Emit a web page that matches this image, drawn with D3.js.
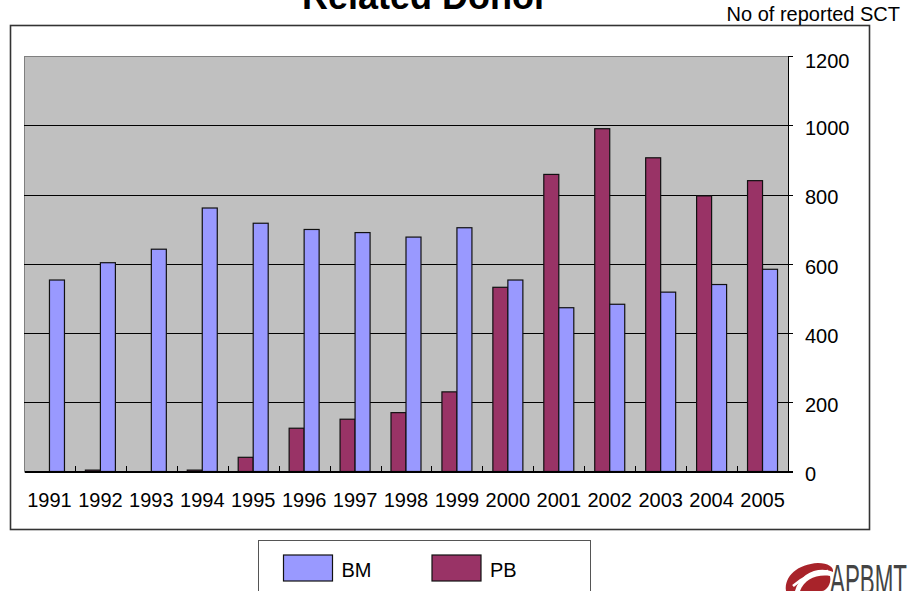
<!DOCTYPE html>
<html lang="en">
<head>
<meta charset="UTF-8">
<title>Related Donor</title>
<script src="https://cdnjs.cloudflare.com/ajax/libs/d3/7.8.5/d3.min.js"></script>
<style>
  body {
    margin: 0;
    background-color: #fff;
  }
  svg {
    display: block;
    font-family: "Liberation Sans", Arial, sans-serif;
  }
  .grid line {
    stroke: #000;
    stroke-width: 1;
  }
  .axis path,
  .axis line {
    stroke: #000;
    shape-rendering: crispEdges;
  }
  .tick-label {
    font-family: "Liberation Sans Narrow", "Liberation Sans", Arial, sans-serif;
    font-size: 20px;
    fill: #000;
  }
</style>
</head>
<body>
<div class="vizHolder"></div>
<script>
// values
var years = ["1991", "1992", "1993", "1994", "1995", "1996", "1997", "1998",
  "1999", "2000", "2001", "2002", "2003", "2004", "2005"];
var seriesNames = ["PB", "BM"];
var bmValues = [553, 603, 642, 761, 717, 699, 690, 677, 704, 553, 473, 483, 518, 540, 584];
var pbValues = [0, 4, 0, 4, 41, 125, 151, 170, 230, 532, 858, 990, 906, 796, 840];
var yTicks = [0, 200, 400, 600, 800, 1000, 1200];

var colors = { BM: "#9999ff", PB: "#993366" };

var W = 908, H = 591;
var plot = { left: 24, right: 788, top: 56, bottom: 471.5 };

var svg = d3.select(".vizHolder").
append("svg").
attr("width", W).
attr("height", H);

// outer frame
svg.append("rect").
attr("x", 10.5).
attr("y", 25.5).
attr("width", 859).
attr("height", 504).
attr("fill", "#fff").
attr("stroke", "#333").
attr("stroke-width", 1.6);

// title (cut off at the top in the original)
svg.append("text").
attr("x", 425).
attr("y", 8.5).
attr("text-anchor", "middle").
style("font-size", "36px").
style("font-weight", "bold").
text("Related Donor");

svg.append("text").
attr("x", 900).
attr("y", 20.5).
attr("text-anchor", "end").
style("font-size", "20px").
text("No of reported SCT");

var x = d3.scaleBand().
domain(years).
range([plot.left, plot.right]);

var barW = 15;
var x1 = d3.scaleBand().
domain(seriesNames).
range([(x.bandwidth() - 2 * barW) / 2, (x.bandwidth() + 2 * barW) / 2]);

var y = d3.scaleLinear().
domain([0, 1200]).
range([plot.bottom, plot.top]);

// plot area
svg.append("rect").
attr("x", plot.left + 0.5).
attr("y", plot.top + 0.5).
attr("width", plot.right - plot.left).
attr("height", plot.bottom - plot.top).
attr("fill", "#c0c0c0").
attr("stroke", "#808080").
attr("stroke-width", 1);

// gridlines
svg.append("g").
attr("class", "grid").
selectAll("line").
data(yTicks.filter(function (d) { return d > 0 && d < 1200; })).
enter().append("line").
attr("x1", plot.left).
attr("x2", plot.right).
attr("y1", function (d) { return Math.round(y(d)) + 0.5; }).
attr("y2", function (d) { return Math.round(y(d)) + 0.5; });

// bars
var rows = years.map(function (yr, i) {
  return { year: yr, BM: bmValues[i], PB: pbValues[i] };
});

var groups = svg.selectAll(".year").
data(rows).
enter().append("g").
attr("class", "year").
attr("transform", function (d) { return "translate(" + x(d.year) + ",0)"; });

groups.selectAll("rect").
data(function (d) {
  return seriesNames.map(function (k) { return { key: k, value: d[k] }; });
}).
enter().append("rect").
filter(function (d) { return d.value > 0; }).
attr("x", function (d) { return x1(d.key); }).
attr("width", x1.bandwidth()).
attr("y", function (d) { return y(d.value); }).
attr("height", function (d) { return y(0) - y(d.value); }).
attr("fill", function (d) { return colors[d.key]; }).
attr("stroke", "#111").
attr("stroke-width", 1.2);

// x axis: baseline, inner ticks at category boundaries, year labels
var xAxis = d3.axisBottom(x).tickSize(0).tickPadding(31);
var xg = svg.append("g").
attr("class", "axis").
attr("transform", "translate(0," + plot.bottom + ")").
call(xAxis);
xg.select(".domain").attr("stroke-width", 1.5);
xg.selectAll(".tick text").
attr("class", "tick-label").
attr("dy", "0.2em");

xg.selectAll(".bound").
data(years.slice(1)).
enter().append("line").
attr("class", "bound").
attr("x1", function (d) { return Math.round(x(d)) + 0.5; }).
attr("x2", function (d) { return Math.round(x(d)) + 0.5; }).
attr("y1", 0).
attr("y2", -6);

// y axis on the right
var yAxis = d3.axisRight(y).
tickValues(yTicks).
tickFormat(d3.format("d")).
tickSize(5).
tickPadding(12);
var yg = svg.append("g").
attr("class", "axis").
attr("transform", "translate(" + plot.right + ",0)").
call(yAxis);
yg.select(".domain").attr("stroke-width", 1.5);
yg.selectAll(".tick text").
attr("class", "tick-label").
attr("y", function (d) { return d === 1200 ? 5 : 3; });

// legend
var legend = svg.append("g").attr("class", "legend");
legend.append("rect").
attr("x", 258.5).
attr("y", 540.5).
attr("width", 332).
attr("height", 70).
attr("fill", "#fff").
attr("stroke", "#555").
attr("stroke-width", 1);

var legendItems = [
  { key: "BM", x: 283.5 },
  { key: "PB", x: 432 }
];
var li = legend.selectAll(".item").
data(legendItems).
enter().append("g").
attr("class", "item");
li.append("rect").
attr("x", function (d) { return d.x; }).
attr("y", 555).
attr("width", 49).
attr("height", 26).
attr("fill", function (d) { return colors[d.key]; }).
attr("stroke", "#111").
attr("stroke-width", 1.2);
li.append("text").
attr("x", function (d) { return d.x + 58; }).
attr("y", 577).
style("font-size", "20px").
text(function (d) { return d.key; });

// APBMT logo, cut at the bottom edge
var logo = svg.append("g").attr("class", "logo");
logo.append("path").
attr("d", "M786,591 C784,576 798,564 818,563 C828,563 834,567 833,572 C820,566 800,572 795,591 Z").
attr("fill", "#a8232a");
logo.append("path").
attr("d", "M800,591 C804,580 816,574 830,576 C832,584 826,591 822,591 Z").
attr("fill", "#a8232a");
logo.append("path").
attr("d", "M793,586 C803,577 815,572 828,571").
attr("fill", "none").
attr("stroke", "#fff").
attr("stroke-width", 2.5);
logo.append("text").
attr("x", 830).
attr("y", 594).
attr("textLength", 77).
attr("lengthAdjust", "spacingAndGlyphs").
style("font-size", "42px").
style("fill", "#444").
text("APBMT");
</script>
</body>
</html>
